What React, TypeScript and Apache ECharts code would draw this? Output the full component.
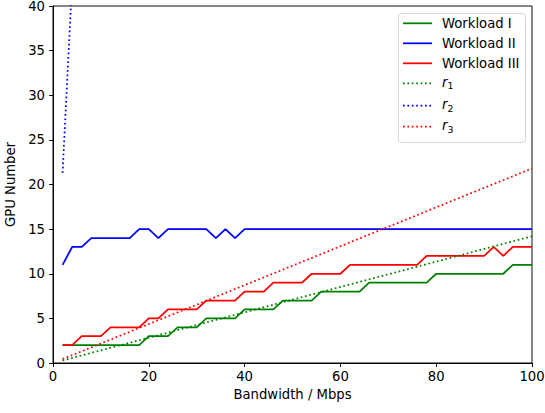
import React, { useEffect, useRef } from "react";
import * as echarts from "echarts";

const bandwidth = [2, 4, 6, 8, 10, 12, 14, 16, 18, 20, 22, 24, 26, 28, 30, 32, 34, 36, 38, 40, 42, 44, 46, 48, 50, 52, 54, 56, 58, 60, 62, 64, 66, 68, 70, 72, 74, 76, 78, 80, 82, 84, 86, 88, 90, 92, 94, 96, 98, 100];
const workload1 = [2, 2, 2, 2, 2, 2, 2, 2, 2, 3, 3, 3, 4, 4, 4, 5, 5, 5, 5, 6, 6, 6, 6, 7, 7, 7, 7, 8, 8, 8, 8, 8, 9, 9, 9, 9, 9, 9, 9, 10, 10, 10, 10, 10, 10, 10, 10, 11, 11, 11];
const workload2 = [11, 13, 13, 14, 14, 14, 14, 14, 15, 15, 14, 15, 15, 15, 15, 15, 14, 15, 14, 15, 15, 15, 15, 15, 15, 15, 15, 15, 15, 15, 15, 15, 15, 15, 15, 15, 15, 15, 15, 15, 15, 15, 15, 15, 15, 15, 15, 15, 15, 15];
const workload3 = [2, 2, 3, 3, 3, 4, 4, 4, 4, 5, 5, 6, 6, 6, 6, 7, 7, 7, 7, 8, 8, 8, 9, 9, 9, 9, 10, 10, 10, 10, 11, 11, 11, 11, 11, 11, 11, 11, 12, 12, 12, 12, 12, 12, 12, 13, 12, 13, 13, 13];
// reference lines (straight), endpoints
const r1X = [2, 100];
const r1Y = [0.28, 14.2];
const r2X = [2, 4];
const r2Y = [21.3, 42.8];
const r3X = [2, 100];
const r3Y = [0.44, 21.8];

const xTicks = [0, 20, 40, 60, 80, 100];
const yTicks = [0, 5, 10, 15, 20, 25, 30, 35, 40];

const legendNames = ["Workload I", "Workload II", "Workload III", "r1", "r2", "r3"];
const legendColors = ["#008000", "#0000ff", "#ff0000", "#008000", "#0000ff", "#ff0000"];
const legendDotted = [false, false, false, true, true, true];

const FONT = "DejaVu Sans";
const FS = 13.2;
const LW = 1.75;
const DOT: number[] = [1.7, 2.7];
const pairs = (xs: number[], ys: number[]) => xs.map((x, i) => [x, ys[i]]);

export default function App() {
  const ref = useRef<HTMLDivElement>(null);
  useEffect(() => {
    if (!ref.current) return;
    const chart = echarts.init(ref.current, null, { renderer: "svg" });
    const solid = (name: string, color: string, ys: number[]) => ({
      name,
      type: "line",
      data: pairs(bandwidth, ys),
      symbol: "none",
      lineStyle: { color, width: LW },
      itemStyle: { color },
      clip: true,
    });
    const dotted = (name: string, color: string, xs: number[], ys: number[]) => ({
      name,
      type: "line",
      data: pairs(xs, ys),
      symbol: "none",
      lineStyle: { color, width: LW, type: DOT },
      itemStyle: { color },
      clip: true,
    });

    const rowY = [23.3, 43.3, 63.3, 83.3, 105.5, 126.5];
    const legendChildren: any[] = [
      {
        type: "rect",
        shape: { x: 398.5, y: 13.5, width: 127, height: 129, r: 3 },
        style: { fill: "rgba(255,255,255,0.85)", stroke: "#d6d6d6", lineWidth: 1 },
      },
    ];
    legendNames.forEach((name, i) => {
      legendChildren.push({
        type: "line",
        shape: { x1: 403, y1: rowY[i], x2: 432, y2: rowY[i] },
        style: {
          stroke: legendColors[i],
          lineWidth: LW,
          lineDash: legendDotted[i] ? DOT : null,
        },
      });
      const isR = name.startsWith("r");
      legendChildren.push({
        type: "text",
        x: 442,
        y: rowY[i] - (isR ? 1 : 0),
        style: {
          text: isR ? `{i|r}{s|${name.slice(1)}}` : name,
          fontFamily: FONT,
          fontSize: FS,
          fill: "#000",
          verticalAlign: "middle",
          align: "left",
          rich: {
            i: { fontFamily: FONT, fontSize: FS, fontStyle: "italic", fill: "#000" },
            s: { fontFamily: FONT, fontSize: 9.3, fill: "#000", padding: [7, 0, 0, 0] },
          },
        },
      });
    });

    chart.setOption({
      animation: false,
      textStyle: { fontFamily: FONT },
      grid: {
        left: 53,
        right: 13,
        top: 6,
        bottom: 50,
        show: true,
        borderColor: "#000",
        borderWidth: 0.95,
        backgroundColor: "transparent",
        containLabel: false,
        outerBoundsMode: "none",
      },
      xAxis: {
        type: "value",
        min: 0,
        max: 100,
        interval: 20,
        name: "Bandwidth / Mbps",
        nameLocation: "middle",
        nameGap: 24,
        nameTextStyle: { fontFamily: FONT, fontSize: FS, color: "#000" },
        axisLine: { show: true, onZero: false, lineStyle: { color: "#000", width: 0.95 } },
        axisTick: { show: true, length: 4, lineStyle: { color: "#000", width: 0.95 } },
        axisLabel: {
          margin: 7,
          fontFamily: FONT,
          fontSize: FS,
          color: "#000",
          customValues: xTicks,
        },
        splitLine: { show: false },
      },
      yAxis: {
        type: "value",
        min: 0,
        max: 40,
        interval: 5,
        name: "GPU Number",
        nameLocation: "middle",
        nameGap: 34,
        nameTextStyle: { fontFamily: FONT, fontSize: FS, color: "#000" },
        axisLine: { show: true, onZero: false, lineStyle: { color: "#000", width: 0.95 } },
        axisTick: { show: true, length: 4, lineStyle: { color: "#000", width: 0.95 } },
        axisLabel: {
          margin: 8,
          fontFamily: FONT,
          fontSize: FS,
          color: "#000",
          customValues: yTicks,
        },
        splitLine: { show: false },
      },
      series: [
        solid("Workload I", "#008000", workload1),
        solid("Workload II", "#0000ff", workload2),
        solid("Workload III", "#ff0000", workload3),
        dotted("r1", "#008000", r1X, r1Y),
        dotted("r2", "#0000ff", r2X, r2Y),
        dotted("r3", "#ff0000", r3X, r3Y),
      ],
      graphic: [{ type: "group", z: 100, children: legendChildren }],
    });
    return () => chart.dispose();
  }, []);
  return (
    <div
      ref={ref}
      style={{ position: "fixed", left: 0, top: 0, width: 545, height: 413, background: "#fff" }}
    />
  );
}
